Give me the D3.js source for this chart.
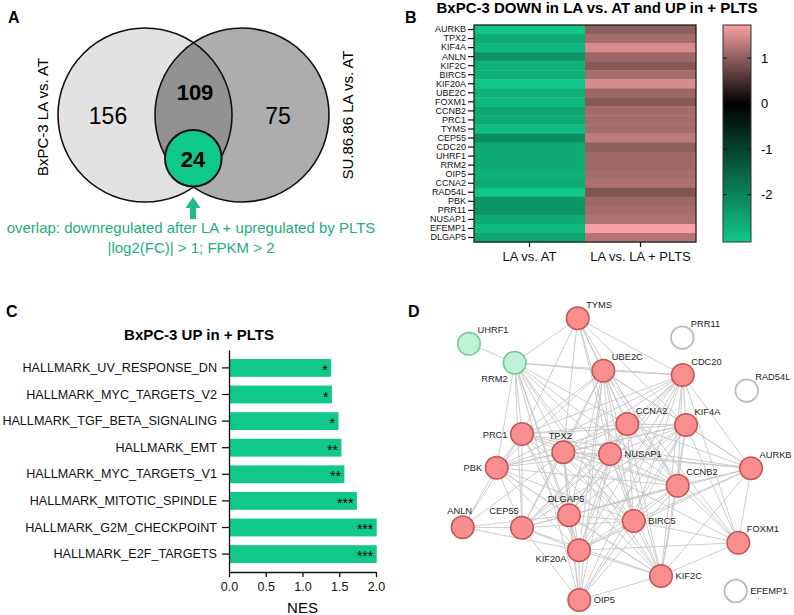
<!DOCTYPE html>
<html>
<head>
<meta charset="utf-8">
<script src="https://cdnjs.cloudflare.com/ajax/libs/d3/7.8.5/d3.min.js"></script>
<style>
body { margin: 0; background: #fff; }
svg { display: block; font-family: "Liberation Sans", Arial, sans-serif; }
</style>
</head>
<body>
<svg id="fig" width="794" height="615"></svg>
<script>
// panel A - venn
var vennSets = ["BxPC-3 LA vs. AT", "SU.86.86 LA vs. AT"];
var vennCounts = [156, 109, 75];
var overlapCount = 24;
var overlapNote = ["overlap: downregulated after LA + upregulated by PLTS", "|log2(FC)| > 1; FPKM > 2"];

// panel B - heatmap
var heatTitle = "BxPC-3 DOWN in LA vs. AT and UP in + PLTS";
var heatGenes = ["AURKB", "TPX2", "KIF4A", "ANLN", "KIF2C", "BIRC5", "KIF20A", "UBE2C", "FOXM1", "CCNB2",
	"PRC1", "TYMS", "CEP55", "CDC20", "UHRF1", "RRM2", "OIP5", "CCNA2", "RAD54L", "PBK", "PRR11",
	"NUSAP1", "EFEMP1", "DLGAP5"];
var heatCols = ["LA vs. AT", "LA vs. LA + PLTS"];
var laVsAt = [-3.0, -2.6, -2.8, -2.25, -2.7, -2.7, -3.0, -2.7, -2.8, -2.55, -2.6, -2.9, -2.15, -2.6,
	-2.6, -2.6, -2.7, -2.6, -3.05, -2.25, -2.25, -2.6, -2.8, -2.5];
var laVsPlts = [1.0, 1.15, 1.5, 1.1, 0.95, 1.15, 1.5, 1.1, 0.95, 1.15, 1.15, 1.15, 1.3, 1.0,
	1.1, 1.1, 1.15, 1.2, 0.9, 1.1, 1.15, 1.2, 1.72, 1.25];
var scaleTicks = [1, 0, -1, -2];
var scaleDomain = [-3.04, 1.725];

// panel C - GSEA bars
var gseaTitle = "BxPC-3 UP in + PLTS";
var pathways = ["HALLMARK_UV_RESPONSE_DN", "HALLMARK_MYC_TARGETS_V2", "HALLMARK_TGF_BETA_SIGNALING",
	"HALLMARK_EMT", "HALLMARK_MYC_TARGETS_V1", "HALLMARK_MITOTIC_SPINDLE", "HALLMARK_G2M_CHECKPOINT",
	"HALLMARK_E2F_TARGETS"];
var nes = [1.39, 1.40, 1.49, 1.53, 1.57, 1.74, 2.01, 2.01];
var signif = ["*", "*", "*", "**", "**", "***", "***", "***"];
var nesTicks = [0, 0.5, 1, 1.5, 2];

// panel D - network (layout units inside the panel)
var netNames = ["UHRF1", "RRM2", "TYMS", "PRC1", "TPX2", "UBE2C", "CDC20", "PRR11", "RAD54L", "CCNA2",
	"KIF4A", "NUSAP1", "AURKB", "CCNB2", "BIRC5", "FOXM1", "KIF2C", "EFEMP1", "OIP5", "PBK", "ANLN",
	"CEP55", "DLGAP5", "KIF20A"];
var netX = [69, 114.7, 177.7, 122, 163.3, 203.3, 282.7, 282.3, 346.7, 227.3, 286, 210, 351, 277.7,
	233.7, 338.3, 261, 335.7, 179.3, 96.7, 62.7, 122, 169, 179];
var netY = [43.7, 62.7, 18.3, 134, 152.3, 70.7, 75, 37.7, 90.7, 124, 125, 154, 168.3, 185.7, 221,
	242.7, 276, 291, 300, 167.7, 227.3, 227.7, 215.3, 250.3];
var netKind = ["down", "down", "up", "up", "up", "up", "up", "none", "none", "up", "up", "up", "up", "up",
	"up", "up", "up", "none", "up", "up", "up", "up", "up", "up"];
var netSide = ["ne", "sw", "ne", "w", "n", "ne", "ne", "ne", "ne", "ne", "ne", "e", "ne", "ne", "e",
	"ne", "e", "e", "e", "w", "n", "nw", "n", "wsw"];
// first gene linked to each of the others
var netLinks = [
	"UHRF1 RRM2",
	"RRM2 TYMS UBE2C PRC1 TPX2 PBK CEP55 DLGAP5 NUSAP1 CCNA2 KIF20A BIRC5 CCNB2 KIF2C CDC20 OIP5",
	"TYMS PRC1 UBE2C CDC20 TPX2 CCNA2 NUSAP1 KIF4A CCNB2 BIRC5",
	"UBE2C CDC20 CCNA2 KIF4A PRC1 TPX2 NUSAP1 PBK AURKB CCNB2 DLGAP5 BIRC5 CEP55 FOXM1 KIF20A KIF2C OIP5",
	"CDC20 CCNA2 KIF4A PRC1 TPX2 NUSAP1 PBK AURKB CCNB2 DLGAP5 BIRC5 CEP55 FOXM1 KIF20A KIF2C OIP5",
	"CCNA2 KIF4A PRC1 TPX2 NUSAP1 PBK AURKB CCNB2 DLGAP5 BIRC5 CEP55 FOXM1 KIF20A KIF2C",
	"KIF4A PRC1 TPX2 NUSAP1 PBK AURKB CCNB2 DLGAP5 BIRC5 CEP55 FOXM1 KIF20A KIF2C OIP5",
	"PRC1 TPX2 NUSAP1 PBK AURKB CCNB2 DLGAP5 BIRC5 CEP55 ANLN KIF20A KIF2C",
	"TPX2 NUSAP1 PBK AURKB CCNB2 DLGAP5 BIRC5 CEP55 FOXM1 KIF20A KIF2C OIP5 ANLN",
	"NUSAP1 PBK AURKB CCNB2 DLGAP5 BIRC5 CEP55 KIF20A KIF2C OIP5",
	"PBK CCNB2 DLGAP5 BIRC5 CEP55 ANLN KIF20A KIF2C",
	"AURKB CCNB2 DLGAP5 BIRC5 FOXM1 KIF20A KIF2C",
	"CCNB2 DLGAP5 BIRC5 CEP55 FOXM1 KIF20A KIF2C OIP5",
	"DLGAP5 BIRC5 CEP55 KIF20A KIF2C OIP5 ANLN",
	"BIRC5 CEP55 FOXM1 KIF20A KIF2C OIP5",
	"CEP55 ANLN KIF20A KIF2C OIP5",
	"FOXM1 KIF2C KIF20A",
	"KIF20A KIF2C OIP5 ANLN",
	"KIF2C OIP5"
];

var svg = d3.select("#fig");
var GREEN = "#10c888";
var TEXT_GREEN = "#1eae78";

function panelLabel(t, x, y)
{
	svg.append("text").attr("x", x).attr("y", y)
		.attr("font-size", 16).attr("font-weight", "bold").text(t);
}

function drawVenn()
{
	var g = svg.append("g");
	var r = 87, cy = 115, cxL = 145, cxR = 242;

	svg.append("defs").append("clipPath").attr("id", "clipLeft")
		.append("circle").attr("cx", cxL).attr("cy", cy).attr("r", r);

	g.append("circle").attr("cx", cxL).attr("cy", cy).attr("r", r).attr("fill", "#e2e2e2");
	g.append("circle").attr("cx", cxR).attr("cy", cy).attr("r", r).attr("fill", "#adadad");
	g.append("circle").attr("cx", cxR).attr("cy", cy).attr("r", r).attr("fill", "#929292")
		.attr("clip-path", "url(#clipLeft)");
	[cxL, cxR].forEach(function(cx) {
		g.append("circle").attr("cx", cx).attr("cy", cy).attr("r", r)
			.attr("fill", "none").attr("stroke", "#111").attr("stroke-width", 1.6);
	});

	// counts
	g.append("text").attr("x", 108).attr("y", 124).attr("text-anchor", "middle")
		.attr("font-size", 23).text(vennCounts[0]);
	g.append("text").attr("x", 195).attr("y", 100).attr("text-anchor", "middle")
		.attr("font-size", 22).attr("font-weight", "bold").text(vennCounts[1]);
	g.append("text").attr("x", 278).attr("y", 124).attr("text-anchor", "middle")
		.attr("font-size", 23).text(vennCounts[2]);

	var mx = (cxL + cxR) / 2;
	g.append("circle").attr("cx", mx - 0.2).attr("cy", 158.3).attr("r", 28.3)
		.attr("fill", GREEN).attr("stroke", "#111").attr("stroke-width", 2);
	g.append("text").attr("x", mx - 0.5).attr("y", 166.5).attr("text-anchor", "middle")
		.attr("font-size", 22).attr("font-weight", "bold").text(overlapCount);

	// arrow
	var ax = mx - 0.5;
	g.append("path")
		.attr("d", "M" + ax + ",197 L" + (ax + 7.5) + ",208 L" + (ax + 3) + ",208 L" + (ax + 3) + ",219 L" +
			(ax - 3) + ",219 L" + (ax - 3) + ",208 L" + (ax - 7.5) + ",208 Z")
		.attr("fill", "#22bb83");

	overlapNote.forEach(function(line, i) {
		g.append("text").attr("x", 191).attr("y", 233 + i * 20).attr("text-anchor", "middle")
			.attr("font-size", 15).attr("fill", TEXT_GREEN).text(line);
	});

	g.append("text").attr("transform", "translate(48,117) rotate(-90)").attr("text-anchor", "middle")
		.attr("font-size", 15).text(vennSets[0]);
	g.append("text").attr("transform", "translate(353,115) rotate(-90)").attr("text-anchor", "middle")
		.attr("font-size", 15).text(vennSets[1]);
}

function drawHeatmap()
{
	var g = svg.append("g");
	var top = 25, bottom = 242;
	var x = d3.scaleBand().domain(heatCols).range([474, 696]);
	var y = d3.scaleBand().domain(heatGenes).range([top, bottom]);
	var color = d3.scaleLinear().domain([scaleDomain[0], 0, scaleDomain[1]])
		.range([GREEN, "#000000", "#f7a2a2"]);

	var cells = [];
	heatGenes.forEach(function(gene, i) {
		cells.push({ gene: gene, col: heatCols[0], v: laVsAt[i] });
		cells.push({ gene: gene, col: heatCols[1], v: laVsPlts[i] });
	});

	g.selectAll("rect.cell").data(cells).join("rect")
		.attr("class", "cell")
		.attr("x", function(d) { return x(d.col); })
		.attr("y", function(d) { return y(d.gene); })
		.attr("width", x.bandwidth())
		.attr("height", y.bandwidth() + 0.4)
		.attr("fill", function(d) { return color(d.v); });

	g.append("rect").attr("x", 474).attr("y", top).attr("width", 222).attr("height", bottom - top)
		.attr("fill", "none").attr("stroke", "#222").attr("stroke-width", 1.3);

	var ya = g.append("g").attr("transform", "translate(474,0)")
		.call(d3.axisLeft(y).tickSize(6).tickSizeOuter(0).tickPadding(2));
	ya.select(".domain").remove();
	ya.selectAll("text").attr("font-size", 9).attr("font-family", null).attr("fill", "#111");
	ya.selectAll("line").attr("stroke", "#111").attr("stroke-width", 1.2);

	var xa = g.append("g").attr("transform", "translate(0," + bottom + ")")
		.call(d3.axisBottom(x).tickSize(5).tickSizeOuter(0).tickPadding(5));
	xa.select(".domain").remove();
	xa.selectAll("text").attr("font-size", 13).attr("font-family", null).attr("fill", "#111");
	xa.selectAll("line").attr("stroke", "#111").attr("stroke-width", 1.2);

	g.append("text").attr("x", 597).attr("y", 12.5).attr("text-anchor", "middle")
		.attr("font-size", 15).attr("font-weight", "bold").text(heatTitle);

	// colour bar
	var cb = d3.scaleLinear().domain(scaleDomain).range([bottom, top]);
	var grad = svg.select("defs").append("linearGradient").attr("id", "heatGrad")
		.attr("x1", 0).attr("y1", 1).attr("x2", 0).attr("y2", 0);
	[scaleDomain[0], 0, scaleDomain[1]].forEach(function(v) {
		grad.append("stop")
			.attr("offset", (v - scaleDomain[0]) / (scaleDomain[1] - scaleDomain[0]))
			.attr("stop-color", color(v));
	});
	g.append("rect").attr("x", 723).attr("y", top).attr("width", 28).attr("height", bottom - top)
		.attr("fill", "url(#heatGrad)").attr("stroke", "#333").attr("stroke-width", 1);
	scaleTicks.forEach(function(t) {
		g.append("line").attr("x1", 723).attr("x2", 727).attr("y1", cb(t)).attr("y2", cb(t))
			.attr("stroke", "#111").attr("stroke-width", 1);
		g.append("line").attr("x1", 747).attr("x2", 751).attr("y1", cb(t)).attr("y2", cb(t))
			.attr("stroke", "#111").attr("stroke-width", 1);
		g.append("text").attr("x", 761).attr("y", cb(t)).attr("dy", "0.35em")
			.attr("font-size", 13).text(t);
	});
}

function drawBars()
{
	var g = svg.append("g");
	var x = d3.scaleLinear().domain([0, 2]).range([229, 376]);
	var y = d3.scaleBand().domain(pathways).range([350, 572]).paddingInner(0.33).paddingOuter(0.338);

	g.selectAll("rect.bar").data(pathways).join("rect")
		.attr("class", "bar")
		.attr("x", x(0))
		.attr("y", function(d) { return y(d); })
		.attr("width", function(d, i) { return x(nes[i]) - x(0); })
		.attr("height", y.bandwidth())
		.attr("fill", GREEN);

	g.selectAll("text.star").data(pathways).join("text")
		.attr("class", "star")
		.attr("x", function(d, i) { return x(nes[i]) - 3.5; })
		.attr("y", function(d) { return y(d) + y.bandwidth() / 2 + 7; })
		.attr("text-anchor", "end").attr("font-size", 14)
		.text(function(d, i) { return signif[i]; });

	var ya = g.append("g").attr("transform", "translate(229,0)")
		.call(d3.axisLeft(y).tickSize(7).tickSizeOuter(0).tickPadding(5));
	ya.selectAll("text").attr("font-size", 12.6).attr("font-family", null).attr("fill", "#111");
	ya.selectAll("line, path").attr("stroke", "#111").attr("stroke-width", 1.3);

	var xa = g.append("g").attr("transform", "translate(0,572)")
		.call(d3.axisBottom(x).tickValues(nesTicks).tickFormat(d3.format(".1f"))
			.tickSize(5).tickSizeOuter(0).tickPadding(5));
	xa.selectAll("text").attr("font-size", 12.5).attr("font-family", null).attr("fill", "#111");
	xa.selectAll("line, path").attr("stroke", "#111").attr("stroke-width", 1.3);

	g.append("text").attr("x", 302.5).attr("y", 613).attr("text-anchor", "middle")
		.attr("font-size", 15).text("NES");
	g.append("text").attr("x", 199).attr("y", 340).attr("text-anchor", "middle")
		.attr("font-size", 15).attr("font-weight", "bold").text(gseaTitle);
}

function drawNetwork()
{
	var g = svg.append("g");
	var nx = d3.scaleLinear().domain([0, 394]).range([400, 794]);
	var ny = d3.scaleLinear().domain([0, 315]).range([300, 615]);

	var nodes = netNames.map(function(n, i) {
		return { name: n, x: netX[i], y: netY[i], kind: netKind[i], side: netSide[i] };
	});
	var byName = {};
	nodes.forEach(function(n) { byName[n.name] = n; });

	var links = [];
	netLinks.forEach(function(row) {
		var parts = row.split(" ");
		for (var k = 1; k < parts.length; k++)
			links.push({ source: byName[parts[0]], target: byName[parts[k]] });
	});

	g.selectAll("line.link").data(links).join("line")
		.attr("class", "link")
		.attr("x1", function(d) { return nx(d.source.x); })
		.attr("y1", function(d) { return ny(d.source.y); })
		.attr("x2", function(d) { return nx(d.target.x); })
		.attr("y2", function(d) { return ny(d.target.y); })
		.attr("stroke", "#c6c6c6").attr("stroke-width", 0.9);

	var fills = { up: "#f98e8e", down: "#c0f2d6", none: "#ffffff" };
	var strokes = { up: "#c75454", down: "#72c697", none: "#bdbdbd" };

	g.selectAll("circle.node").data(nodes).join("circle")
		.attr("class", "node")
		.attr("cx", function(d) { return nx(d.x); })
		.attr("cy", function(d) { return ny(d.y); })
		.attr("r", 11.3)
		.attr("fill", function(d) { return fills[d.kind]; })
		.attr("stroke", function(d) { return strokes[d.kind]; })
		.attr("stroke-width", function(d) { return d.kind == "none" ? 1.8 : 1.5; });

	var sides = {
		ne: { a: "start", dx: 8.5, dy: -13.5 },
		e: { a: "start", dx: 14.5, dy: 0 },
		w: { a: "end", dx: -14.5, dy: 0.5 },
		n: { a: "middle", dx: -3, dy: -16.5 },
		nw: { a: "middle", dx: -18, dy: -17 },
		sw: { a: "end", dx: -7, dy: 16.5 },
		wsw: { a: "end", dx: -12.5, dy: 8 }
	};

	g.selectAll("text.lbl").data(nodes).join("text")
		.attr("class", "lbl")
		.attr("x", function(d) { return nx(d.x) + sides[d.side].dx; })
		.attr("y", function(d) { return ny(d.y) + sides[d.side].dy; })
		.attr("dy", "0.35em")
		.attr("text-anchor", function(d) { return sides[d.side].a; })
		.attr("font-size", 9.3).attr("fill", "#222")
		.text(function(d) { return d.name; });
}

drawVenn();
drawHeatmap();
drawBars();
drawNetwork();

panelLabel("A", 8, 23);
panelLabel("B", 405, 23);
panelLabel("C", 6, 317);
panelLabel("D", 408, 317);
</script>
</body>
</html>
